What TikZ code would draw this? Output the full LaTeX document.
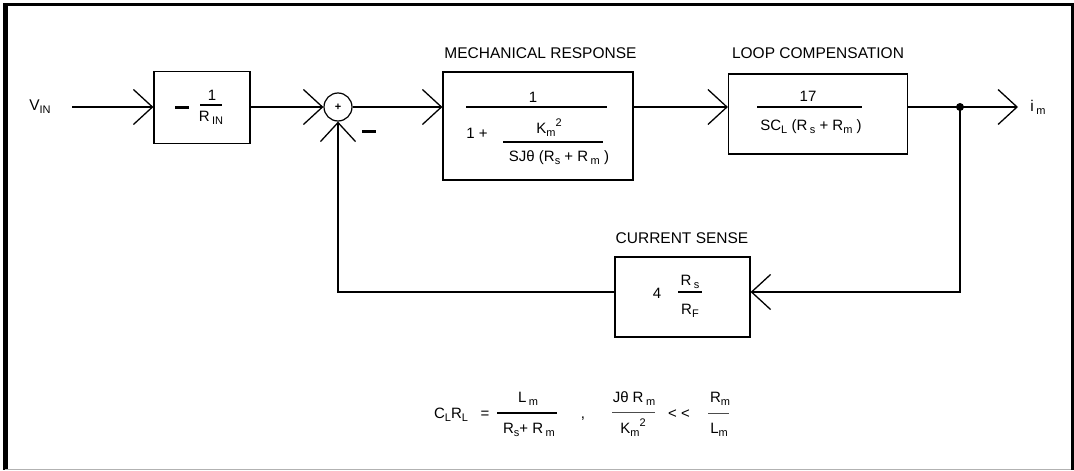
\documentclass[tikz,border=0pt]{standalone}
\usepackage{fontspec}
\setmainfont{Liberation Sans}
\usetikzlibrary{arrows.meta}
\newcommand\sbs[1]{\raisebox{-0.45ex}{\fontsize{11}{12}\selectfont #1}}
\newcommand\sps[1]{\raisebox{0.85ex}{\fontsize{11}{12}\selectfont #1}}
\tikzset{
  ln/.style={line width=1.3pt},
  arr/.style={ln, -{Straight Barb[length=19pt,width=35pt,line width=1.3pt]}},
  blk/.style={draw, line width=1.2pt, inner sep=0pt},
  lbl/.style={font=\fontsize{15.5}{16}\selectfont, inner sep=0pt, anchor=base},
  tx/.style={font=\fontsize{15}{15}\selectfont, inner sep=0pt, anchor=base},
  fx/.style={font=\fontsize{15}{15}\selectfont, inner sep=0pt, anchor=base},
  fbar/.style={line width=1.2pt},
  lbar/.style={line width=1pt, black!70},
  minusbar/.style={fill=black, inner sep=0pt, minimum width=14pt, minimum height=3pt}
}
\begin{document}
\begin{tikzpicture}[x=1pt,y=-1pt]
\useasboundingbox (0,0) rectangle (1074,471);
% frame
\draw[line width=3pt] (3,4.5) -- (1074,4.5);
\draw[line width=4.5pt] (5.5,3) -- (5.5,470);
\draw[line width=3pt] (1072.5,3) -- (1072.5,470);
\draw[line width=1pt, black!30] (5,469.5) -- (1071,469.5);

% blocks
\node[blk, minimum width=96pt, minimum height=72pt] (box1) at (202,107.5) {};
\node[blk, circle, minimum size=28pt] (sum) at (338,107) {};
\node[blk, minimum width=190pt, minimum height=108pt] (mech) at (538,126) {};
\node[blk, minimum width=179pt, minimum height=80pt] (loop) at (818,114) {};
\node[blk, minimum width=135pt, minimum height=80pt] (sense) at (682.5,297) {};

% labels
\node[lbl] (lmech) at (540.5,58) {MECHANICAL RESPONSE};
\node[lbl] (lloop) at (818,58) {LOOP COMPENSATION};
\node[lbl] (lsense) at (682,243) {CURRENT SENSE};
\node[lbl] (vin) at (40,110) {V\sbs{IN}};
\node[lbl] (im) at (1038,111) {i\,\sbs{m}};

% box1 content
\node[minusbar] (neg1) at (182,107) {};
\node[tx] (one1) at (212,100) {1};
\draw[fbar] (200,105) -- (222,105);
\node[tx] (rin) at (211,121) {R\,\sbs{IN}};

% sum content
\node[font=\bfseries\fontsize{11}{11}\selectfont, inner sep=0pt] (plus) at (338,107) {+};
\node[minusbar] (negsum) at (369,131) {};

% mech content
\node[tx] (one2) at (533,102) {1};
\draw[fbar] (466,107) -- (607,107);
\node[tx] (onep) at (477,138) {1 +};
\node[tx] (km) at (549,133) {K\sbs{m}\sps{2}};
\draw[fbar] (503,142) -- (603,142);
\node[tx] (den2) at (559,161) {SJθ (R\sbs{s} + R\,\sbs{m} )};

% loop content
\node[tx] (n17) at (808,101) {17};
\draw[fbar] (757,107) -- (862,107);
\node[tx] (den3) at (811,130) {SC\sbs{L} (R\,\sbs{s} + R\sbs{m} )};

% sense content
\node[tx] (four) at (657,298) {4};
\node[tx] (rs) at (690,285) {R\,\sbs{s}};
\draw[fbar] (678,292) -- (702,292);
\node[tx] (rf) at (690,314) {R\sbs{F}};

% connectors
\coordinate (vstart) at (72,107);
\coordinate (dot) at (960,107);
\coordinate (out) at (1018,107);
\coordinate (fbrow) at (0,292);
\draw[arr] (vstart) -- (vstart -| box1.west);
\draw[arr] (vstart -| box1.east) -- (sum.west);
\draw[arr] (sum.east) -- (sum.east -| mech.west);
\draw[arr] (sum.east -| mech.east) -- (sum.east -| loop.west);
\draw[ln] (sum.east -| loop.east) -- (dot);
\draw[arr] (dot) -- (out);
\fill (dot) circle (4pt);
\draw[arr] (dot) -- (dot |- fbrow) -- (fbrow -| sense.east);
\draw[arr] (fbrow -| sense.west) -- (fbrow -| sum) -- (sum.south);

% bottom formula
\node[fx] (clrl) at (451,418) {C\sbs{L}R\sbs{L}};
\node[fx] (eq) at (485,418) {=};
\node[fx] (lm1) at (528,402) {L\,\sbs{m}};
\draw[fbar] (497,413) -- (557,413);
\node[fx] (rsrm) at (529,433) {R\sbs{s}+ R\,\sbs{m}};
\node[fx] (comma) at (583,418) {,};
\node[fx] (jt) at (634,402) {Jθ R\,\sbs{m}};
\draw[lbar] (612,412) -- (655,412);
\node[fx] (km2) at (633,433) {K\sbs{m}\sps{2}};
\node[fx] (ll) at (679,418) {< <};
\node[fx] (rm3) at (720,402) {R\sbs{m}};
\draw[lbar] (708,413) -- (729,413);
\node[fx] (lm3) at (719,433) {L\sbs{m}};
\end{tikzpicture}
\end{document}
